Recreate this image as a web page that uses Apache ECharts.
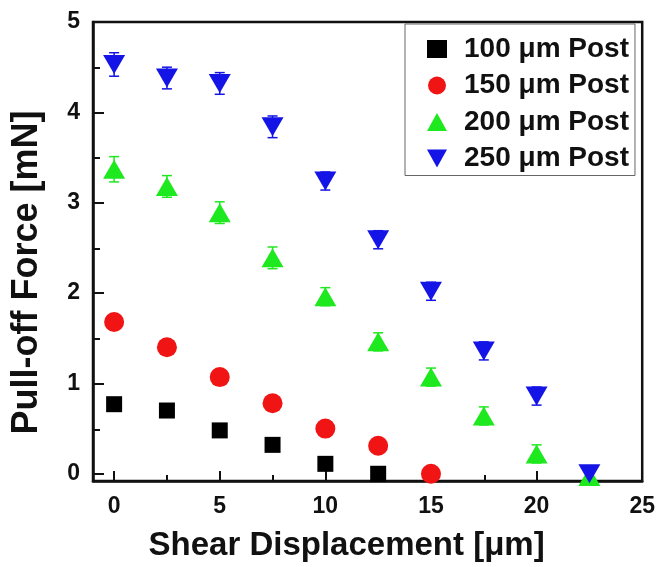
<!DOCTYPE html>
<html>
<head>
<meta charset="utf-8">
<script src="https://cdn.jsdelivr.net/npm/echarts@6/dist/echarts.min.js"></script>
<style>
  html, body { margin: 0; padding: 0; background: #fff; }
  #chart { width: 658px; height: 567px; }
</style>
</head>
<body>
<div id="chart"></div>
<script>
// 剪切位移 (µm)
const shear = [0, 2.5, 5, 7.5, 10, 12.5, 15, 17.5, 20, 22.5];
const post100 = [0.77, 0.70, 0.48, 0.32, 0.11, 0.0];
const post150 = [1.68, 1.40, 1.07, 0.78, 0.50, 0.31, 0.0];
const post200 = [3.37, 3.18, 2.89, 2.39, 1.96, 1.46, 1.07, 0.64, 0.22, -0.03];
const post250 = [4.53, 4.38, 4.32, 3.84, 3.24, 2.59, 2.02, 1.36, 0.86, 0.0];
// 误差棒
const err200 = [0.14, 0.12, 0.12, 0.12, 0.1, 0.1, 0.1, 0.1, 0.1, 0.08];
const err250 = [0.13, 0.12, 0.12, 0.12, 0.1, 0.1, 0.1, 0.1, 0.1, 0.08];
const xMajor = [0, 5, 10, 15, 20, 25];
const xMinor = [2.5, 7.5, 12.5, 17.5, 22.5];
const yMajor = [0, 1, 2, 3, 4, 5];
const yMinor = [0.5, 1.5, 2.5, 3.5, 4.5];

const font = 'Liberation Sans, Arial, sans-serif';
const downTri = 'path://M0,0 L10,0 L5,9 Z';
const rect = { left: 93, top: 22, width: 551, height: 460 };

function pairs(ys) {
  return ys.map((y, i) => [shear[i], y]);
}

function errorBars(name, ys, errs, color) {
  return {
    name: name,
    type: 'custom',
    xAxisIndex: 0,
    yAxisIndex: 0,
    data: ys.map((y, i) => [shear[i], y - errs[i], y + errs[i]]),
    renderItem: function(params, api) {
      const lo = api.coord([api.value(0), api.value(1)]);
      const hi = api.coord([api.value(0), api.value(2)]);
      const w = 5;
      const style = { stroke: color, lineWidth: 1.5 };
      return {
        type: 'group',
        children: [
          { type: 'line', shape: { x1: lo[0], y1: lo[1], x2: hi[0], y2: hi[1] }, style: style },
          { type: 'line', shape: { x1: lo[0] - w, y1: lo[1], x2: lo[0] + w, y2: lo[1] }, style: style },
          { type: 'line', shape: { x1: hi[0] - w, y1: hi[1], x2: hi[0] + w, y2: hi[1] }, style: style },
        ],
      };
    },
    z: 1,
    silent: true,
  };
}

const axisLine = { show: true, onZero: false, lineStyle: { color: '#111', width: 2.5 } };
// 次刻度用第二个重叠的 grid 画
const minorLine = { show: false, onZero: false };

const chart = echarts.init(document.getElementById('chart'));
chart.setOption({
  backgroundColor: '#fff',
  animation: false,
  grid: [
    Object.assign({ show: true, borderColor: '#111', borderWidth: 2.5, backgroundColor: 'transparent' }, rect),
    Object.assign({ show: false }, rect),
  ],
  legend: {
    orient: 'vertical',
    left: 405,
    top: 24,
    data: ['100 μm Post', '150 μm Post', '200 μm Post', '250 μm Post'],
    itemWidth: 20,
    itemHeight: 18,
    itemGap: 8.5,
    padding: [11, 6, 3, 22],
    borderColor: '#666',
    borderWidth: 1,
    backgroundColor: '#fff',
    textStyle: { fontFamily: font, fontWeight: 'bold', fontSize: 28, color: '#111', padding: [0, 0, 0, 12] },
  },
  xAxis: [
    {
      type: 'value',
      gridIndex: 0,
      min: -1,
      max: 25,
      name: 'Shear Displacement [μm]',
      nameLocation: 'middle',
      nameGap: 48,
      nameTextStyle: { fontFamily: font, fontWeight: 'bold', fontSize: 33, color: '#111', padding: [0, 42, 0, 0] },
      axisLine: axisLine,
      axisTick: { show: true, inside: true, length: 10, customValues: xMajor, lineStyle: { color: '#111', width: 2 } },
      axisLabel: { customValues: xMajor, margin: 14, fontFamily: font, fontWeight: 'bold', fontSize: 23, color: '#111' },
      splitLine: { show: false },
    },
    {
      type: 'value',
      gridIndex: 1,
      min: -1,
      max: 25,
      position: 'bottom',
      axisLine: minorLine,
      axisTick: { show: true, inside: true, length: 7, customValues: xMinor, lineStyle: { color: '#111', width: 2 } },
      axisLabel: { show: false, customValues: xMinor },
      splitLine: { show: false },
    },
  ],
  yAxis: [
    {
      type: 'value',
      gridIndex: 0,
      min: -0.08,
      max: 5,
      name: 'Pull-off Force [mN]',
      nameLocation: 'middle',
      nameGap: 48,
      nameTextStyle: { fontFamily: font, fontWeight: 'bold', fontSize: 36, color: '#111', padding: [0, 42, 0, 0] },
      axisLine: axisLine,
      axisTick: { show: true, inside: true, length: 11, customValues: yMajor, lineStyle: { color: '#111', width: 2 } },
      axisLabel: { customValues: yMajor, margin: 13, fontFamily: font, fontWeight: 'bold', fontSize: 23, color: '#111' },
      splitLine: { show: false },
    },
    {
      type: 'value',
      gridIndex: 1,
      min: -0.08,
      max: 5,
      position: 'left',
      axisLine: minorLine,
      axisTick: { show: true, inside: true, length: 7, customValues: yMinor, lineStyle: { color: '#111', width: 2 } },
      axisLabel: { show: false, customValues: yMinor },
      splitLine: { show: false },
    },
  ],
  series: [
    errorBars('err200', post200, err200, '#1ee81e'),
    errorBars('err250', post250, err250, '#1414e6'),
    { name: '100 μm Post', type: 'scatter', symbol: 'rect', symbolSize: 16, data: pairs(post100), itemStyle: { color: '#000', opacity: 1 }, z: 3 },
    { name: '150 μm Post', type: 'scatter', symbol: 'circle', symbolSize: 20, data: pairs(post150), itemStyle: { color: '#f01414', opacity: 1 }, z: 3 },
    { name: '200 μm Post', type: 'scatter', symbol: 'triangle', symbolSize: [22, 19], data: pairs(post200), itemStyle: { color: '#1ee81e', opacity: 1 }, z: 3 },
    { name: '250 μm Post', type: 'scatter', symbol: downTri, symbolSize: [22, 19], data: pairs(post250), itemStyle: { color: '#1414e6', opacity: 1 }, z: 3 },
  ],
});
</script>
</body>
</html>
